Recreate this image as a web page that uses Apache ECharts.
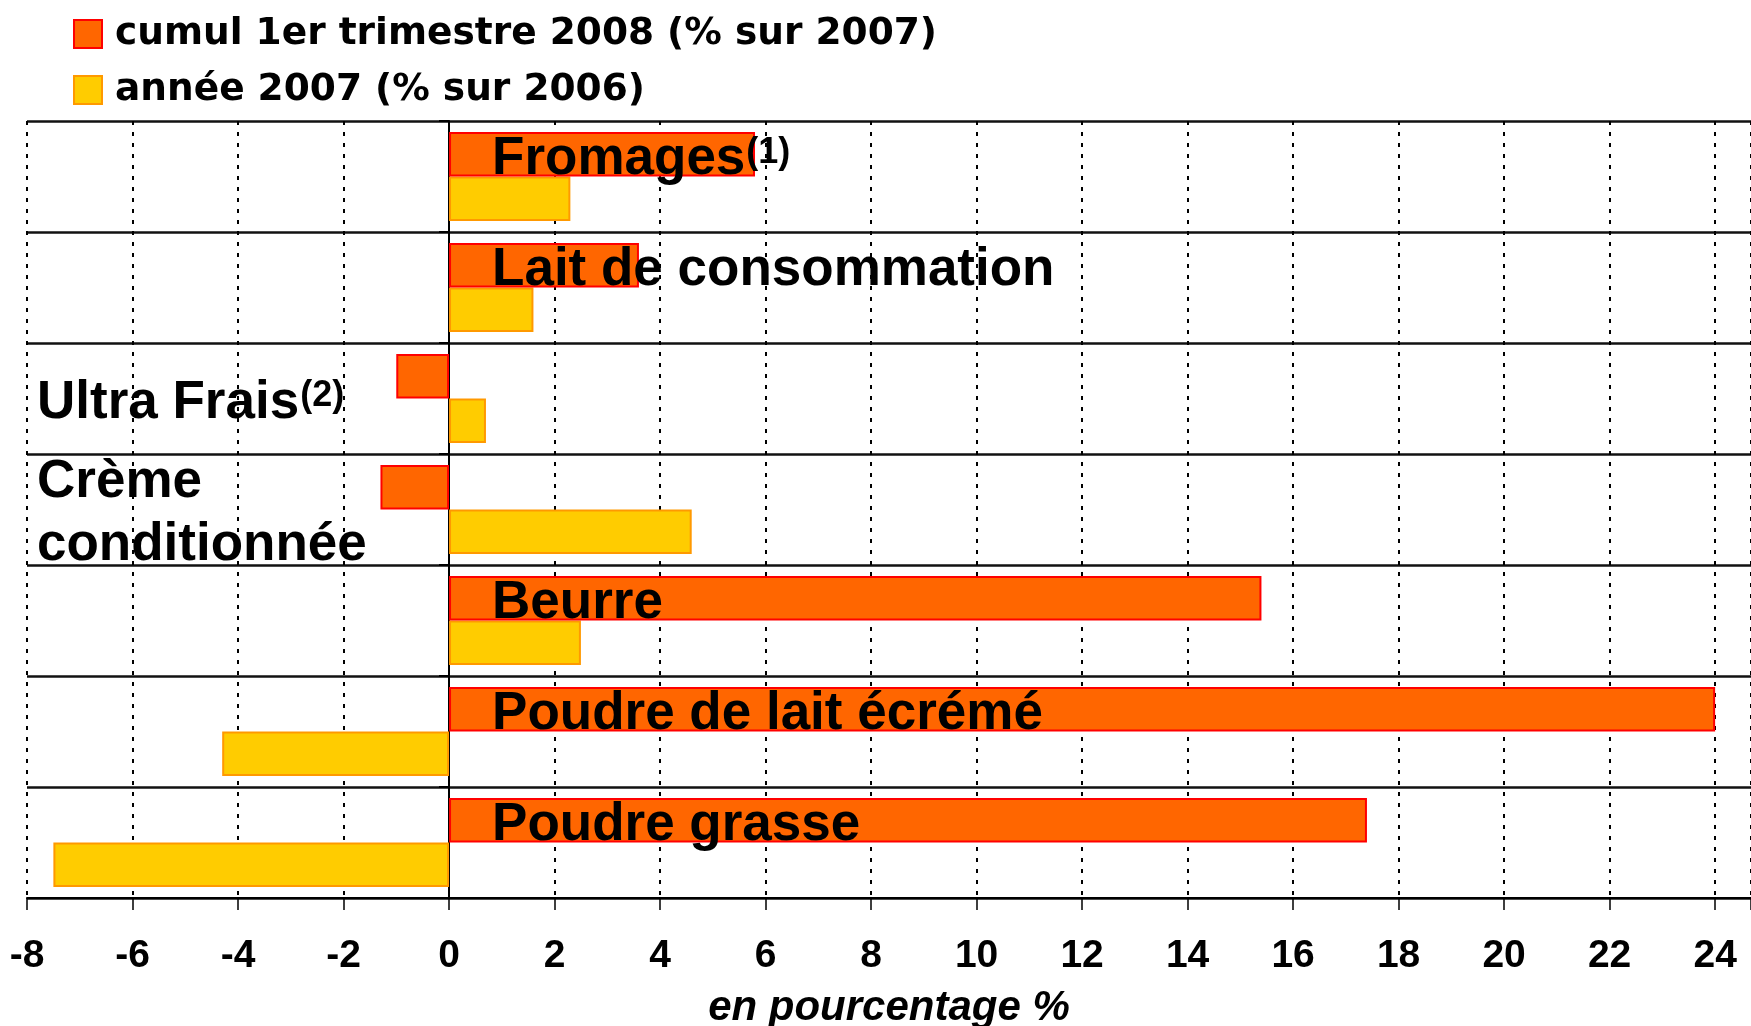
<!DOCTYPE html>
<html>
<head>
<meta charset="utf-8">
<title>Produits laitiers</title>
<script src="https://cdn.jsdelivr.net/npm/echarts@6/dist/echarts.min.js"></script>
<style>
  html, body { margin: 0; padding: 0; background: #fff; }
  #chart { width: 1751px; height: 1026px; }
</style>
</head>
<body>
<div id="chart"></div>
<script>
// données (en %)
const categories = ['Fromages', 'Lait de consommation', 'Ultra Frais', 'Crème\nconditionnée', 'Beurre', 'Poudre de lait écrémé', 'Poudre grasse'];
const footnotes = ['(1)', '', '(2)', '', '', '', ''];
const cumul2008 = [5.8, 3.6, -1.0, -1.3, 15.4, 24.0, 17.4];
const annee2007 = [2.3, 1.6, 0.7, 4.6, 2.5, -4.3, -7.5];
const seriesNames = ['cumul 1er trimestre 2008 (% sur 2007)', 'année 2007 (% sur 2006)'];
const tickLabels = [-8, -6, -4, -2, 0, 2, 4, 6, 8, 10, 12, 14, 16, 18, 20, 22, 24];
const axisName = 'en pourcentage %';

const arial = '"Liberation Sans", Arial, sans-serif';

// libellé en texte riche, avec renvoi en exposant
function richName (i) {
  const lines = categories[i].split('\n').map(l => '{n|' + l + '}');
  return lines.join('\n') + (footnotes[i] ? '{s|' + footnotes[i] + '}' : '');
}

const rich = {
  n: { fontSize: 53, fontWeight: 'bold', fontFamily: arial, color: '#000', lineHeight: 63 },
  // exposant : remonté par un padding bas
  s: { fontSize: 36, fontWeight: 'bold', fontFamily: arial, color: '#000', padding: [0, 0, 13, 1] }
};

const chart = echarts.init(document.getElementById('chart'));

const options = {
  animation: false,
  backgroundColor: '#fff',
  legend: {
    orient: 'vertical',
    left: 68,
    top: 10,
    itemWidth: 28,
    itemHeight: 28,
    itemGap: 18,
    icon: 'rect',
    textStyle: {
      fontSize: 37.5,
      fontWeight: 'bold',
      fontFamily: '"DejaVu Sans", sans-serif',
      color: '#000',
      padding: [0, 0, 0, 8]
    }
  },
  grid: {
    left: 27,
    right: 0,
    top: 121,
    bottom: 128,
    outerBoundsMode: 'none'
  },
  xAxis: {
    type: 'value',
    min: tickLabels[0],
    max: 24.68,
    interval: tickLabels[1] - tickLabels[0],
    name: axisName,
    nameLocation: 'middle',
    nameGap: 89,
    nameTextStyle: {
      fontSize: 42,
      fontWeight: 'bold',
      fontStyle: 'italic',
      fontFamily: arial,
      color: '#000'
    },
    axisLine: { show: true, onZero: false, lineStyle: { color: '#000', width: 2 } },
    axisTick: { show: true, length: 12, lineStyle: { color: '#000', width: 1.5 } },
    axisLabel: {
      fontSize: 39,
      fontWeight: 'bold',
      fontFamily: arial,
      color: '#000',
      margin: 39,
      formatter: v => tickLabels.indexOf(v) >= 0 ? String(v) : ''
    },
    splitLine: { show: true, lineStyle: { color: '#000', width: 2, type: [4, 7] } }
  },
  yAxis: [{
    type: 'category',
    data: categories,
    inverse: true,
    position: 'right',
    axisLine: { show: true, onZero: true, lineStyle: { color: '#000', width: 2 } },
    axisTick: { show: true, inside: true, length: 10, lineStyle: { color: '#000', width: 2 } },
    axisLabel: { show: false },
    splitLine: { show: true, lineStyle: { color: '#111', width: 2.5 } }
  }, {
    // libellés placés à gauche (catégories en baisse)
    type: 'category',
    data: categories,
    inverse: true,
    position: 'left',
    axisLine: { show: false },
    axisTick: { show: false },
    splitLine: { show: false },
    axisLabel: {
      inside: true,
      margin: 10,
      align: 'left',
      padding: [9, 0, 0, 0],
      formatter: (v, i) => cumul2008[i] < 0 ? richName(i) : '',
      rich: rich
    }
  }],
  series: [{
    name: seriesNames[0],
    type: 'bar',
    yAxisIndex: 0,
    data: cumul2008,
    barGap: '0%',
    barCategoryGap: '20%',
    z: 3,
    itemStyle: { color: '#FF6600', borderColor: '#FF0000', borderWidth: 2 },
    label: {
      show: true,
      position: 'insideLeft',
      offset: [38, 5],
      color: '#000',
      textBorderWidth: 0,
      formatter: p => cumul2008[p.dataIndex] >= 0 ? richName(p.dataIndex) : '',
      rich: rich
    }
  }, {
    name: seriesNames[1],
    type: 'bar',
    yAxisIndex: 0,
    data: annee2007,
    barGap: '0%',
    barCategoryGap: '20%',
    z: 2,
    itemStyle: { color: '#FFCC00', borderColor: '#FF9900', borderWidth: 2 }
  }]
};

chart.setOption(options);
</script>
</body>
</html>
